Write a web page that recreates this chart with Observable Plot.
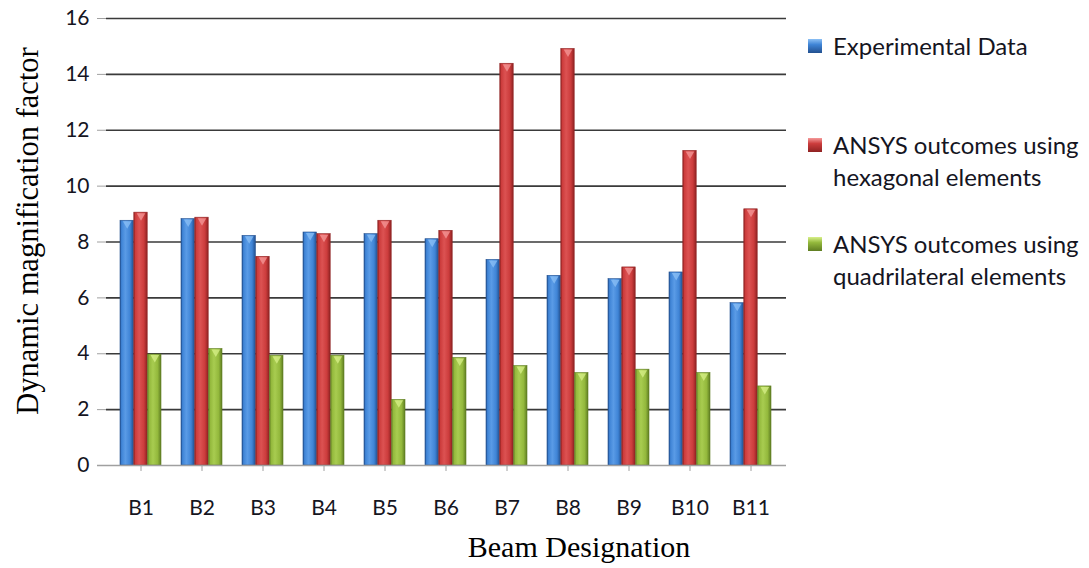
<!DOCTYPE html>
<html>
<head>
<meta charset="utf-8">
<script src="https://cdn.jsdelivr.net/npm/d3@7"></script>
<script src="https://cdn.jsdelivr.net/npm/@observablehq/plot@0.6"></script>
<style>
  body { margin: 0; background: #fff; }
  #chart { position: relative; width: 1089px; height: 568px; overflow: hidden; }
  #chart svg { position: absolute; left: 0; top: 0; }
  .legend { position: absolute; left: 808px; top: 0; font-family: Lato, "Open Sans", sans-serif; font-size: 24px; color: #15151f; }
  .legend .item { position: absolute; left: 0; white-space: nowrap; line-height: 32px; }
  .legend .swatch { position: absolute; left: 0; top: 9px; width: 14px; height: 14px; }
  .legend .label { position: absolute; left: 25px; top: 0; }
  .xtitle { position: absolute; top: 530px; left: 0; width: 1158px; text-align: center; font-family: "Liberation Serif", "Times New Roman", serif; font-size: 30px; color: #000; }
  .ytitle { position: absolute; left: 28px; top: 231px; transform: translate(-50%, -50%) rotate(-90deg); white-space: nowrap; font-family: "Liberation Serif", "Times New Roman", serif; font-size: 30.5px; line-height: 1; color: #000; }
</style>
</head>
<body>
<div id="chart"></div>
<script>
// Beam designations along the x axis
const beams = ["B1", "B2", "B3", "B4", "B5", "B6", "B7", "B8", "B9", "B10", "B11"];
// Dynamic magnification factor for each beam, per series
const experimental = [8.76, 8.82, 8.22, 8.34, 8.28, 8.10, 7.36, 6.79, 6.67, 6.91, 5.81];
const hexagonal = [9.05, 8.87, 7.47, 8.28, 8.76, 8.40, 14.38, 14.91, 7.09, 11.26, 9.17];
const quadrilateral = [3.97, 4.17, 3.93, 3.93, 2.35, 3.85, 3.56, 3.31, 3.43, 3.31, 2.83];
const seriesNames = [
  ["Experimental Data"],
  ["ANSYS outcomes using", "hexagonal elements"],
  ["ANSYS outcomes using", "quadrilateral elements"]
];
const yTicks = [0, 2, 4, 6, 8, 10, 12, 14, 16];

// Bar shading: dark edges, light band left of centre
const palettes = [
  {id: "gBlue", edge: "#23508f", mid: "#3f84d6", light: "#5a9be6", cap: "#8cc0f5"},
  {id: "gRed", edge: "#8f2222", mid: "#cc3c3c", light: "#dc5252", cap: "#f59a9a"},
  {id: "gGreen", edge: "#5f7d22", mid: "#93b83c", light: "#a8cc50", cap: "#d8f08a"}
];
const seriesValues = [experimental, hexagonal, quadrilateral];
const barWidth = 13.8;
const offsets = [-barWidth, 0, barWidth];

const marks = [
  Plot.ruleY(yTicks.filter(t => t > 0), {stroke: "#3a3a3a", strokeWidth: 1.6}),
  Plot.axisY({ticks: yTicks, tickSize: 9, tickPadding: 8, stroke: "#a0a0a0",
    fontSize: 21, label: null}),
  Plot.axisX({tickSize: 6, tickPadding: 29, fontSize: 21, label: null, stroke: "#a0a0a0"})
];
seriesValues.forEach((vals, s) => {
  marks.push(Plot.barY(beams, {
    x: d => d, y: (d, i) => vals[i],
    fill: `url(#${palettes[s].id})`,
    stroke: palettes[s].edge, strokeWidth: 0.6,
    dx: offsets[s], insetLeft: barWidth, insetRight: barWidth
  }));
  // lighter bevel at the top of each bar
  marks.push(Plot.dot(beams, {
    x: d => d, y: (d, i) => vals[i],
    symbol: "triangle", rotate: 180, r: 3.2, dy: 3,
    fill: palettes[s].cap, fillOpacity: 0.75, stroke: "none",
    dx: offsets[s]
  }));
});
marks.push(Plot.ruleY([0], {stroke: "#a0a0a0", strokeWidth: 1.3, insetLeft: -9}));
marks.push(Plot.ruleX([0], {frameAnchor: "left", stroke: "#a0a0a0", strokeWidth: 1.3, y1: 0, y2: 16}));

const chart = Plot.plot({
  width: 1089,
  height: 532,
  marginLeft: 106,
  marginRight: 303,
  marginTop: 18,
  marginBottom: 67,
  style: {fontFamily: "Lato, 'Open Sans', sans-serif", color: "#15151f", background: "#fff"},
  x: {domain: beams, paddingInner: 0.32, paddingOuter: 0.16},
  y: {domain: [0, 16]},
  marks
});

// gradients for the bevelled bars
const ns = "http://www.w3.org/2000/svg";
const defs = document.createElementNS(ns, "defs");
palettes.forEach(p => {
  const g = document.createElementNS(ns, "linearGradient");
  g.setAttribute("id", p.id);
  g.setAttribute("x1", "0"); g.setAttribute("x2", "1");
  g.setAttribute("y1", "0"); g.setAttribute("y2", "0");
  [[0, p.edge], [0.12, p.mid], [0.4, p.light], [0.75, p.mid], [1, p.edge]].forEach(([o, c]) => {
    const st = document.createElementNS(ns, "stop");
    st.setAttribute("offset", o); st.setAttribute("stop-color", c);
    g.appendChild(st);
  });
  defs.appendChild(g);
});
chart.insertBefore(defs, chart.firstChild);

const root = document.getElementById("chart");
root.appendChild(chart);

// legend to the right of the plot
const legend = document.createElement("div");
legend.className = "legend";
const tops = [30, 129, 228];
seriesNames.forEach((lines, s) => {
  const item = document.createElement("div");
  item.className = "item";
  item.style.top = tops[s] + "px";
  const sw = document.createElement("div");
  sw.className = "swatch";
  sw.style.background = `linear-gradient(to bottom, ${palettes[s].cap}, ${palettes[s].mid} 40%, ${palettes[s].edge})`;
  item.appendChild(sw);
  const lab = document.createElement("div");
  lab.className = "label";
  lab.innerHTML = lines.join("<br>");
  item.appendChild(lab);
  legend.appendChild(item);
});
root.appendChild(legend);

// axis titles
const yt = document.createElement("div");
yt.className = "ytitle";
yt.textContent = "Dynamic magnification factor";
root.appendChild(yt);

const xt = document.createElement("div");
xt.className = "xtitle";
xt.textContent = "Beam Designation";
root.appendChild(xt);
</script>
</body>
</html>
